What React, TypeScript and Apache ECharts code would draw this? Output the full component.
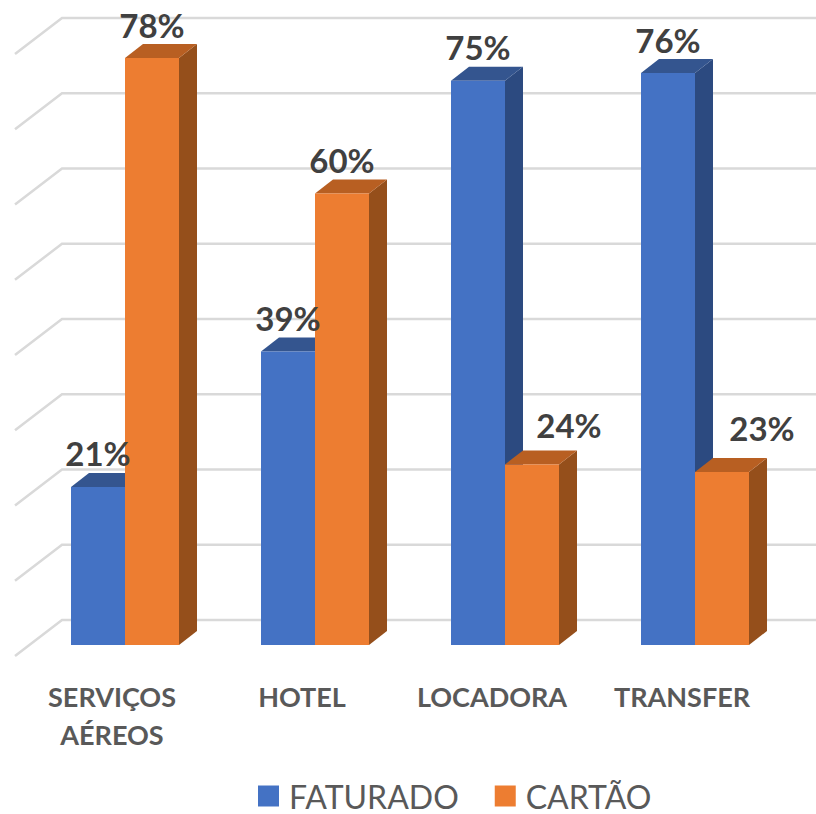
import React, { useEffect, useRef } from "react";
import * as echarts from "echarts";

const categories = ["SERVIÇOS\nAÉREOS", "HOTEL", "LOCADORA", "TRANSFER"];
const faturado = [21, 39, 75, 76];
const cartao = [78, 60, 24, 23];
const gridTicks = [0, 10, 20, 30, 40, 50, 60, 70, 80];

const BLUE = { front: "#4472C4", top: "#34558F", side: "#2C4A80" };
const ORANGE = { front: "#ED7D31", top: "#B85F22", side: "#954F1B" };

const BAR_W = 54;
const DEPTH_X = 18;
const DEPTH_Y = 14;
const BLUE_START = -41;
const ORANGE_START = 13;
const LABEL_FONT = 'bold 33px Lato, "Noto Sans", sans-serif';

function barRenderer(colors: typeof BLUE, startOffset: number) {
  return (_params: any, api: any) => {
    const idx = api.value(0);
    const val = api.value(1);
    const [cx, top] = api.coord([idx, val]);
    const [, base] = api.coord([idx, 0]);
    const x0 = cx + startOffset;
    const x1 = x0 + BAR_W;
    return {
      type: "group",
      children: [
        {
          type: "polygon",
          shape: { points: [[x1, top], [x1 + DEPTH_X, top - DEPTH_Y], [x1 + DEPTH_X, base - DEPTH_Y], [x1, base]] },
          style: { fill: colors.side },
        },
        {
          type: "polygon",
          shape: { points: [[x0, top], [x1, top], [x1 + DEPTH_X, top - DEPTH_Y], [x0 + DEPTH_X, top - DEPTH_Y]] },
          style: { fill: colors.top },
        },
        {
          type: "rect",
          shape: { x: x0, y: top, width: BAR_W, height: base - top },
          style: { fill: colors.front },
        },
      ],
    };
  };
}

function labelRenderer(startOffset: number, labelNudge: Record<number, [number, number]>) {
  return (params: any, api: any) => {
    const val = api.value(1);
    const [cx, top] = api.coord([api.value(0), val]);
    const nudge = labelNudge[params.dataIndex] || [0, 0];
    return {
      type: "text",
      x: cx + startOffset + BAR_W / 2 + nudge[0],
      y: top - 17 + nudge[1],
      style: {
        text: `${val}%`,
        fill: "#404040",
        font: LABEL_FONT,
        textAlign: "center",
        textVerticalAlign: "bottom",
      },
    };
  };
}

function gridRenderer(_params: any, api: any) {
  const [, y] = api.coord([0, api.value(1)]);
  return {
    type: "polyline",
    shape: { points: [[15, y + 11], [62, y - 25], [816, y - 25]] },
    style: { fill: "none", stroke: "#D9D9D9", lineWidth: 2.5 },
  };
}

export default function App() {
  const ref = useRef<HTMLDivElement>(null);
  useEffect(() => {
    const chart = echarts.init(ref.current!, null, { renderer: "svg" });
    chart.setOption({
      animation: false,
      backgroundColor: "#FFFFFF",
      grid: { left: 17, width: 760, top: 43, height: 602 },
      xAxis: {
        type: "category",
        data: categories,
        axisLine: { show: false },
        axisTick: { show: false },
        axisLabel: {
          color: "#595959",
          fontFamily: 'Lato, "Noto Sans", sans-serif',
          fontWeight: "bold",
          fontSize: 27,
          lineHeight: 38,
          margin: 32,
          interval: 0,
        },
      },
      yAxis: { type: "value", min: 0, max: 80, interval: 10, show: false },
      legend: {
        data: ["FATURADO", "CARTÃO"],
        left: 253,
        top: 775,
        itemWidth: 21,
        itemHeight: 21,
        itemGap: 36,
        icon: "rect",
        textStyle: { color: "#595959", fontFamily: 'Lato, "Noto Sans", sans-serif', fontSize: 32, lineHeight: 28, padding: [0, 0, 0, 5] },
      },
      series: [
        {
          type: "custom",
          name: "grid",
          clip: false,
          z: 1,
          silent: true,
          data: gridTicks.map((t) => [0, t]),
          renderItem: gridRenderer,
        },
        {
          type: "custom",
          name: "FATURADO",
          clip: false,
          z: 2,
          itemStyle: { color: BLUE.front },
          data: faturado.map((v, i) => [i, v]),
          renderItem: barRenderer(BLUE, BLUE_START),
        },
        {
          type: "custom",
          name: "CARTÃO",
          clip: false,
          z: 3,
          itemStyle: { color: ORANGE.front },
          data: cartao.map((v, i) => [i, v]),
          renderItem: barRenderer(ORANGE, ORANGE_START),
        },
        {
          type: "custom",
          name: "faturadoLabels",
          clip: false,
          z: 5,
          silent: true,
          data: faturado.map((v, i) => [i, v]),
          renderItem: labelRenderer(BLUE_START, {}),
        },
        {
          type: "custom",
          name: "cartaoLabels",
          clip: false,
          z: 5,
          silent: true,
          data: cartao.map((v, i) => [i, v]),
          renderItem: labelRenderer(ORANGE_START, { 2: [37, -6], 3: [40, -10] }),
        },
      ],
    });
    return () => chart.dispose();
  }, []);
  return <div ref={ref} style={{ position: "absolute", left: 0, top: 0, width: 816, height: 814 }} />;
}
